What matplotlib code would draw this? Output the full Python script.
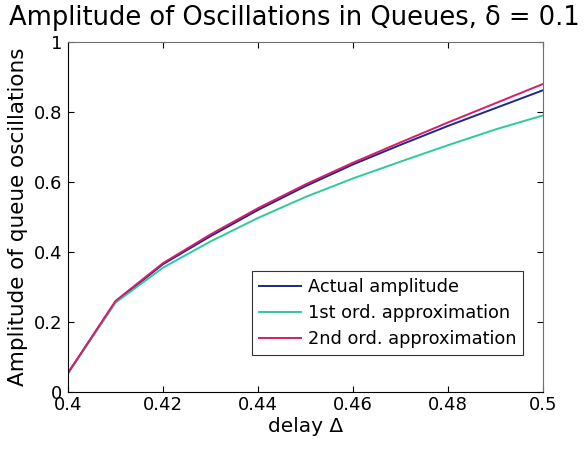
import matplotlib
matplotlib.use("Agg")
import matplotlib.pyplot as plt

delay = [0.40, 0.41, 0.42, 0.43, 0.44, 0.45, 0.46, 0.47, 0.48, 0.49, 0.50]
actual = [0.054, 0.257, 0.365, 0.445, 0.52, 0.588, 0.65, 0.706, 0.76, 0.811, 0.862]
first_ord = [0.054, 0.255, 0.355, 0.43, 0.497, 0.557, 0.61, 0.658, 0.705, 0.75, 0.79]
second_ord = [0.054, 0.26, 0.368, 0.45, 0.525, 0.593, 0.655, 0.713, 0.77, 0.825, 0.88]

xticks = [0.4, 0.42, 0.44, 0.46, 0.48, 0.5]
xtick_labels = ["0.4", "0.42", "0.44", "0.46", "0.48", "0.5"]
yticks = [0, 0.2, 0.4, 0.6, 0.8, 1]
ytick_labels = ["0", "0.2", "0.4", "0.6", "0.8", "1"]

plt.rcParams['font.family'] = ['DejaVu Sans']

fig = plt.figure(figsize=(5.86, 4.5), dpi=100)
ax = fig.add_axes([0.116, 0.129, 0.811, 0.778])

ax.plot(delay, actual, color='#1a2a8c', lw=1.4, label='Actual amplitude')
ax.plot(delay, first_ord, color='#2ec9a0', lw=1.4, label='1st ord. approximation')
ax.plot(delay, second_ord, color='#d81b6a', lw=1.4, label='2nd ord. approximation')

ax.set_xlim(0.4, 0.5)
ax.set_ylim(0, 1)
ax.set_xticks(xticks)
ax.set_xticklabels(xtick_labels)
ax.set_yticks(yticks)
ax.set_yticklabels(ytick_labels)
ax.tick_params(direction='in', labelsize=13, length=4, width=0.8)
ax.tick_params(axis='x', pad=3)
ax.tick_params(axis='y', pad=4)
ax.tick_params(top=True, right=True)
for s in ax.spines.values():
    s.set_linewidth(0.8)
    s.set_color('#707070')
ax.spines['left'].set_color('black')
ax.spines['bottom'].set_color('black')

ax.set_xlabel('delay Δ', fontsize=14.5, labelpad=2)
ax.set_ylabel('Amplitude of queue oscillations', fontsize=15.5, labelpad=4)
fig.text(0.503, 0.96, 'Amplitude of Oscillations in Queues, δ = 0.1',
         ha='center', va='center', fontsize=18.5)

leg = ax.legend(loc='lower right', bbox_to_anchor=(0.958, 0.106), fontsize=12.8,
                frameon=True, fancybox=False, handlelength=2.4,
                handletextpad=0.35, borderpad=0.4, labelspacing=0.45, borderaxespad=0)
leg.get_frame().set_edgecolor('black')
leg.get_frame().set_linewidth(0.8)

fig.savefig('out.png', dpi=100)
